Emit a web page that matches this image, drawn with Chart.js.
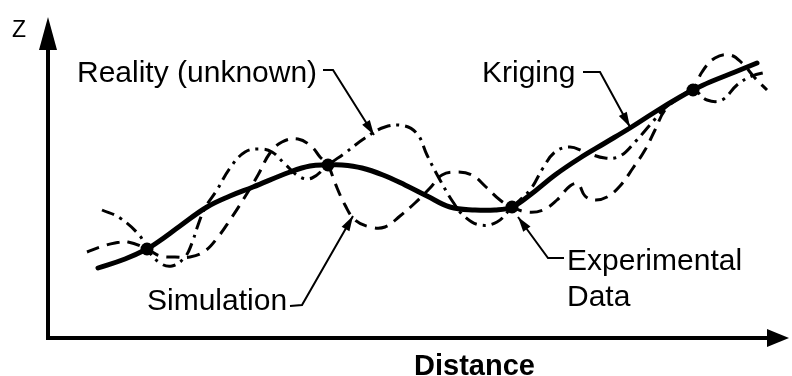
<!DOCTYPE html>
<html>
<head>
<meta charset="utf-8">
<script src="https://cdn.jsdelivr.net/npm/chart.js@4.4.0/dist/chart.umd.min.js"></script>
<style>
  html, body { margin: 0; padding: 0; background: #fff; }
  #wrap { width: 792px; height: 376px; }
</style>
</head>
<body>
<div id="wrap"><canvas id="chart" width="792" height="376"></canvas></div>
<script>
// values (distance, Z in arbitrary units)
let dataX = [100, 281, 465, 646];
let dataZ = [89, 173, 131, 248];

let krigX = [51, 78, 100, 111, 133, 160, 183, 206, 243, 263, 281, 295, 315, 336, 358, 380, 403, 428, 448, 465, 483, 508, 533, 558, 583, 608, 633, 646, 663, 688, 710];
let krigZ = [70, 79, 89, 96, 112, 131, 142, 151, 166, 172, 173, 173, 170, 163, 153, 142, 131, 128, 128, 131, 143, 163, 180, 195, 210, 226, 241, 248, 256, 266, 275];

let realX = [55, 73, 93, 100, 113, 125, 138, 145, 150, 158, 170, 183, 198, 213, 225, 238, 253, 265, 281, 298, 318, 338, 358, 371, 380, 393, 406, 418, 433, 450, 465, 483, 496, 508, 523, 538, 558, 573, 588, 603, 618, 633, 646, 660, 675, 690, 705, 720];
let realZ = [128, 120, 102, 89, 75, 72, 81, 95, 110, 130, 148, 170, 186, 189, 186, 174, 161, 160, 173, 185, 200, 211, 212, 203, 183, 158, 136, 121, 113, 116, 131, 148, 170, 186, 191, 186, 180, 182, 196, 213, 230, 241, 248, 238, 238, 253, 262, 266];

let simX = [40, 53, 68, 81, 100, 113, 128, 143, 158, 171, 183, 196, 211, 223, 235, 251, 265, 273, 281, 288, 298, 308, 323, 338, 353, 368, 383, 395, 410, 425, 439, 453, 465, 480, 496, 510, 523, 531, 538, 548, 560, 573, 586, 598, 608, 618, 633, 646, 655, 668, 683, 695, 708, 720];
let simZ = [86, 91, 95, 96, 89, 82, 81, 81, 87, 101, 118, 138, 163, 185, 196, 199, 191, 181, 173, 155, 133, 118, 111, 111, 122, 135, 150, 163, 166, 163, 151, 138, 131, 126, 128, 138, 152, 154, 142, 138, 141, 152, 170, 188, 208, 228, 241, 248, 266, 280, 283, 275, 260, 248];

function pts(xs, zs) {
  return xs.map((x, i) => ({ x: x, y: zs[i] }));
}

const font = '"Liberation Sans", Arial, sans-serif';

function arrowHead(ctx, x0, y0, x1, y1, len, half) {
  const a = Math.atan2(y1 - y0, x1 - x0);
  ctx.beginPath();
  ctx.moveTo(x1, y1);
  ctx.lineTo(x1 - len * Math.cos(a) + half * Math.sin(a), y1 - len * Math.sin(a) - half * Math.cos(a));
  ctx.lineTo(x1 - len * Math.cos(a) - half * Math.sin(a), y1 - len * Math.sin(a) + half * Math.cos(a));
  ctx.closePath();
  ctx.fill();
}

// axes with arrows, labels and leader lines
const sketchPlugin = {
  id: "sketch",
  afterDraw(chart) {
    const ctx = chart.ctx;
    const area = chart.chartArea;
    const xs = chart.scales.x;
    const ys = chart.scales.y;
    const P = (x, z) => [xs.getPixelForValue(x), ys.getPixelForValue(z)];

    ctx.save();
    ctx.fillStyle = "#000";
    ctx.strokeStyle = "#000";
    ctx.lineCap = "butt";

    // axes
    const ax = area.left + 1;
    const ay = area.bottom;
    ctx.lineWidth = 4;
    ctx.beginPath();
    ctx.moveTo(ax, ay + 2);
    ctx.lineTo(ax, area.top + 25);
    ctx.moveTo(ax - 2, ay);
    ctx.lineTo(area.right - 10, ay);
    ctx.stroke();
    arrowHead(ctx, ax, ay, ax, area.top, 33, 9);
    arrowHead(ctx, ax, ay, area.right + 4, ay, 22, 9);

    // leader lines
    ctx.lineWidth = 2;
    const leaders = [
      [[276, 268], [286, 268], [327, 203]],
      [[536, 266], [553, 266], [583, 211]],
      [[243, 32], [255, 33], [306, 122]],
      [[517, 80], [501, 80], [471, 121]]
    ];
    leaders.forEach((l) => {
      const p = l.map((q) => P(q[0], q[1]));
      ctx.beginPath();
      ctx.moveTo(p[0][0], p[0][1]);
      ctx.lineTo(p[1][0], p[1][1]);
      ctx.lineTo(p[2][0], p[2][1]);
      ctx.stroke();
      arrowHead(ctx, p[1][0], p[1][1], p[2][0], p[2][1], 15, 4.5);
    });

    // texts
    ctx.textBaseline = "alphabetic";
    ctx.textAlign = "left";
    ctx.font = "30px " + font;
    const labels = [
      ["Reality (unknown)", 30, 256],
      ["Kriging", 435, 256],
      ["Simulation", 100, 28],
      ["Experimental", 520, 68],
      ["Data", 520, 32]
    ];
    labels.forEach((t) => {
      const p = P(t[1], t[2]);
      ctx.fillText(t[0], p[0], p[1]);
    });
    ctx.font = "23px " + font;
    let p = P(-35, 301);
    ctx.fillText("Z", p[0], p[1]);
    ctx.font = "bold 29px " + font;
    p = P(367, -37);
    ctx.fillText("Distance", p[0], p[1]);
    ctx.restore();
  }
};

new Chart(document.getElementById("chart"), {
  type: "line",
  data: {
    datasets: [
      {
        label: "Experimental Data",
        type: "scatter",
        data: pts(dataX, dataZ),
        pointRadius: 6.5,
        pointBackgroundColor: "#000",
        pointBorderWidth: 0,
        order: 0
      },
      {
        label: "Kriging",
        data: pts(krigX, krigZ),
        borderColor: "#000",
        borderWidth: 5,
        borderCapStyle: "round",
        pointRadius: 0,
        tension: 0.4,
        order: 1
      },
      {
        label: "Reality (unknown)",
        data: pts(realX, realZ),
        borderColor: "#000",
        borderWidth: 3,
        borderDash: [13, 6, 3, 6],
        pointRadius: 0,
        tension: 0.4,
        order: 2
      },
      {
        label: "Simulation",
        data: pts(simX, simZ),
        borderColor: "#000",
        borderWidth: 3,
        borderDash: [13, 8],
        pointRadius: 0,
        tension: 0.4,
        order: 3
      }
    ]
  },
  options: {
    responsive: false,
    animation: false,
    layout: { padding: { left: 47, right: 7, top: 17, bottom: 38 } },
    scales: {
      x: { type: "linear", min: 0, max: 738, display: false },
      y: { type: "linear", min: 0, max: 321, display: false }
    },
    plugins: {
      legend: { display: false },
      tooltip: { enabled: false }
    }
  },
  plugins: [sketchPlugin]
});
</script>
</body>
</html>
